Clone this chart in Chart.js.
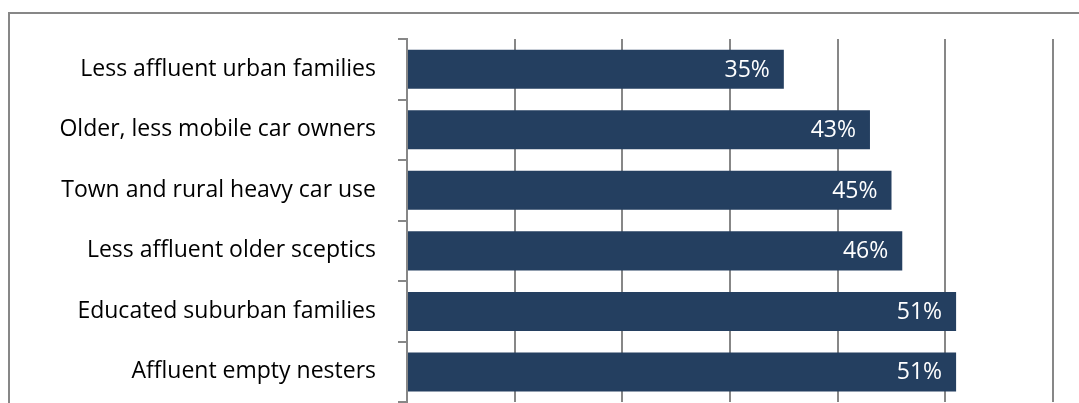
<!DOCTYPE html>
<html>
<head>
<meta charset="utf-8">
<script src="https://cdn.jsdelivr.net/npm/chart.js@4"></script>
<style>
  html, body { margin: 0; padding: 0; background: #fff; overflow: hidden; }
  #wrap { position: relative; width: 1079px; height: 403px; overflow: hidden; }
  #frame {
    position: absolute; left: 8px; top: 12px; width: 1100px; height: 500px;
    border-left: 2px solid #878787; border-top: 2px solid #878787;
  }
  canvas { position: absolute; left: 0; top: 0; }
</style>
</head>
<body>
<div id="wrap">
  <div id="frame"></div>
  <canvas id="myChart" width="1079" height="438"></canvas>
</div>
<script>
const categories = [
  "Less affluent urban families",
  "Older, less mobile car owners",
  "Town and rural heavy car use",
  "Less affluent older sceptics",
  "Educated suburban families",
  "Affluent empty nesters",
];
const values = [35, 43, 45, 46, 51, 51];
const axisMax = 60;
const barColor = "#243F60";
const lineColor = "#878787";

// white % labels at the inner end of each bar
const barLabels = {
  id: "barLabels",
  afterDatasetsDraw(chart) {
    const ctx = chart.ctx;
    const meta = chart.getDatasetMeta(0);
    ctx.save();
    ctx.fillStyle = "#ffffff";
    ctx.font = "23px 'Open Sans'";
    ctx.textAlign = "right";
    ctx.textBaseline = "middle";
    meta.data.forEach((bar, i) => {
      ctx.fillText(values[i] + "%", bar.x - 14, bar.y + 1);
    });
    ctx.restore();
  },
};

Chart.defaults.font.family = "'Open Sans'";

const myChart = new Chart("myChart", {
  type: "bar",
  data: {
    labels: categories,
    datasets: [
      {
        data: values,
        backgroundColor: barColor,
        borderWidth: 0,
        categoryPercentage: 0.645,
        barPercentage: 1,
      },
    ],
  },
  options: {
    indexAxis: "y",
    responsive: false,
    animation: false,
    events: [],
    layout: { padding: { top: 39, right: 26, bottom: 1, left: 0 } },
    plugins: {
      legend: { display: false },
      tooltip: { enabled: false },
    },
    scales: {
      x: {
        min: 0,
        max: axisMax,
        ticks: { stepSize: 10, display: false },
        grid: { color: lineColor, lineWidth: 2, drawTicks: false },
        border: { display: false },
      },
      y: {
        afterFit: (scale) => { scale.width = 407; },
        ticks: { color: "#000", font: { size: 23 }, padding: 22 },
        grid: {
          drawOnChartArea: false,
          color: lineColor,
          lineWidth: 2,
          tickLength: 9,
        },
        border: { color: lineColor, width: 2 },
      },
    },
  },
  plugins: [barLabels],
});
</script>
</body>
</html>
